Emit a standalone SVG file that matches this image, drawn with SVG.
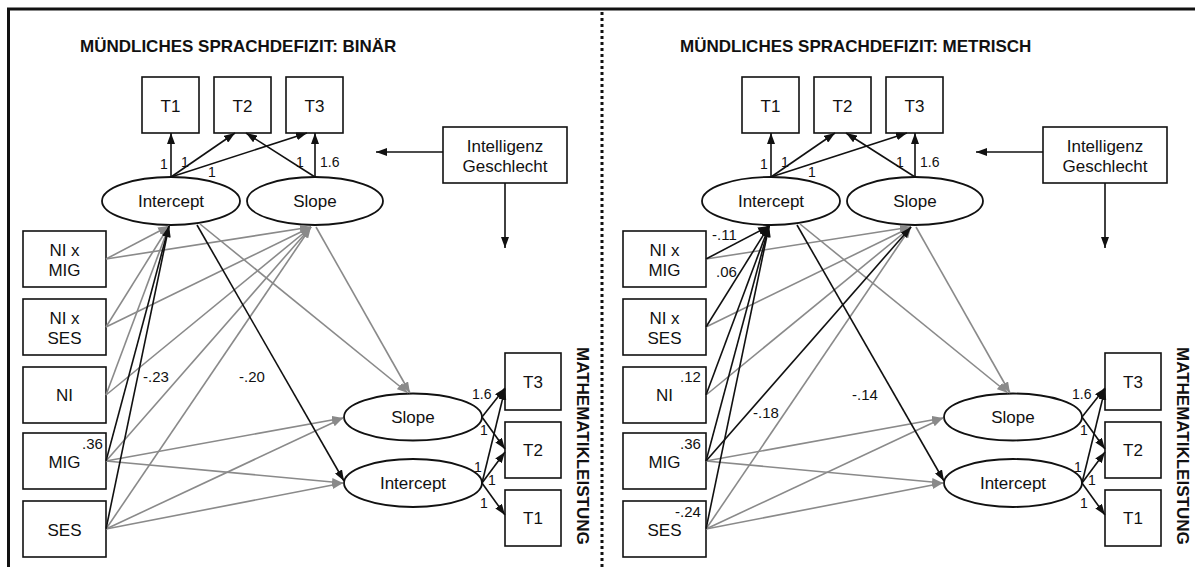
<svg xmlns="http://www.w3.org/2000/svg" width="1195" height="567" viewBox="0 0 1195 567">
<style>
text{font-family:"Liberation Sans",Arial,sans-serif;fill:#111}
.t{font-size:17px;text-anchor:middle}
.ti{font-size:17px;font-weight:bold}
.c{font-size:15px}
.s{font-size:14px}
.box{fill:#fff;stroke:#111;stroke-width:1.6}
.ell{fill:#fff;stroke:#111;stroke-width:1.8}
.k{stroke:#111;stroke-width:1.6;fill:none;marker-end:url(#mb)}
.g{stroke:#8a8a8a;stroke-width:1.6;fill:none;marker-end:url(#mg)}
</style>
<defs>
<marker id="mb" markerUnits="userSpaceOnUse" markerWidth="11" markerHeight="8" refX="11" refY="4" orient="auto"><path d="M0,0 L11,4 L0,8 z" fill="#111"/></marker>
<marker id="mg" markerUnits="userSpaceOnUse" markerWidth="11" markerHeight="8" refX="11" refY="4" orient="auto"><path d="M0,0 L11,4 L0,8 z" fill="#8a8a8a"/></marker>
</defs>
<rect width="1195" height="567" fill="#fff"/>
<g id="frame">
<line x1="7" y1="9" x2="1195" y2="9" stroke="#111" stroke-width="3"/>
<line x1="8.5" y1="8" x2="8.5" y2="567" stroke="#111" stroke-width="3"/>
<line x1="602" y1="12" x2="602" y2="567" stroke="#111" stroke-width="3" stroke-dasharray="3 3"/>
</g>

<!-- LEFT PANEL -->
<g id="left">
<text id="title-left" class="ti" x="80" y="52">MÜNDLICHES SPRACHDEFIZIT: BINÄR</text>
<g id="L-T1"><rect class="box" x="142" y="77" width="57" height="56"/><text class="t" x="170.5" y="112">T1</text></g>
<g id="L-T2"><rect class="box" x="214" y="77" width="57" height="56"/><text class="t" x="242.5" y="112">T2</text></g>
<g id="L-T3"><rect class="box" x="286" y="77" width="57" height="56"/><text class="t" x="314.5" y="112">T3</text></g>
<g id="L-cov"><rect class="box" x="443" y="127" width="124" height="56"/><text class="t" x="505" y="152">Intelligenz</text><text class="t" x="505" y="172">Geschlecht</text></g>
<g id="L-int1"><ellipse class="ell" cx="171" cy="201" rx="69" ry="24"/><text class="t" x="171" y="207">Intercept</text></g>
<g id="L-slo1"><ellipse class="ell" cx="315" cy="201" rx="68" ry="24"/><text class="t" x="315" y="207">Slope</text></g>
<g id="L-nimig"><rect class="box" x="23" y="231" width="83" height="56"/><text class="t" x="64.5" y="256">NI x</text><text class="t" x="64.5" y="276">MIG</text></g>
<g id="L-nises"><rect class="box" x="23" y="299" width="83" height="56"/><text class="t" x="64.5" y="324">NI x</text><text class="t" x="64.5" y="344">SES</text></g>
<g id="L-ni"><rect class="box" x="23" y="367" width="83" height="56"/><text class="t" x="64.5" y="401">NI</text></g>
<g id="L-mig"><rect class="box" x="23" y="433" width="83" height="56"/><text class="t" x="64.5" y="468">MIG</text></g>
<g id="L-ses"><rect class="box" x="23" y="501" width="83" height="56"/><text class="t" x="64.5" y="536">SES</text></g>
<g id="L-slo2"><ellipse class="ell" cx="413" cy="417" rx="69" ry="23.5"/><text class="t" x="413" y="423">Slope</text></g>
<g id="L-int2"><ellipse class="ell" cx="413" cy="483" rx="69" ry="24"/><text class="t" x="413" y="489">Intercept</text></g>
<g id="L-M3"><rect class="box" x="505" y="353" width="56" height="57"/><text class="t" x="533" y="388">T3</text></g>
<g id="L-M2"><rect class="box" x="505" y="422" width="56" height="56"/><text class="t" x="533" y="456">T2</text></g>
<g id="L-M1"><rect class="box" x="505" y="490" width="56" height="56"/><text class="t" x="533" y="524">T1</text></g>
<text class="ti" transform="translate(577,347) rotate(90)">MATHEMATIKLEISTUNG</text>
<g id="L-connectors">
<line class="g" x1="106" y1="259" x2="169" y2="226"/>
<line class="g" x1="106" y1="259" x2="311" y2="227"/>
<line class="g" x1="106" y1="327" x2="169" y2="226"/>
<line class="g" x1="106" y1="327" x2="311" y2="227"/>
<line class="g" x1="106" y1="395" x2="169" y2="226"/>
<line class="g" x1="106" y1="395" x2="311" y2="227"/>
<line class="g" x1="106" y1="461" x2="311" y2="227"/>
<line class="g" x1="106" y1="529" x2="311" y2="227"/>
<line class="g" x1="106" y1="461" x2="343" y2="418"/>
<line class="g" x1="106" y1="461" x2="343" y2="483"/>
<line class="g" x1="106" y1="529" x2="343" y2="418"/>
<line class="g" x1="106" y1="529" x2="343" y2="483"/>
<line class="g" x1="200" y1="224" x2="408" y2="393"/>
<line class="g" x1="316" y1="227" x2="410" y2="393"/>
<line class="k" x1="106" y1="461" x2="169" y2="226"/>
<line class="k" x1="106" y1="529" x2="169" y2="226"/>
<line class="k" x1="197" y1="225" x2="344" y2="481"/>
<line class="k" x1="171" y1="177" x2="171" y2="133"/>
<line class="k" x1="171" y1="177" x2="235" y2="133"/>
<line class="k" x1="171" y1="177" x2="307" y2="133"/>
<line class="k" x1="315" y1="177" x2="246" y2="133"/>
<line class="k" x1="315" y1="177" x2="315" y2="133"/>
<line class="k" x1="482" y1="417" x2="505" y2="388"/>
<line class="k" x1="482" y1="417" x2="505" y2="449"/>
<line class="k" x1="482" y1="483" x2="505" y2="389"/>
<line class="k" x1="482" y1="483" x2="505" y2="452"/>
<line class="k" x1="482" y1="483" x2="505" y2="515"/>
<line class="k" x1="443" y1="152" x2="376" y2="152"/>
<line class="k" x1="505" y1="183" x2="505" y2="248"/>
</g>
<g id="L-labels">
<text class="s" x="160" y="169">1</text>
<text class="s" x="181" y="167">1</text>
<text class="s" x="208" y="177">1</text>
<text class="s" x="296" y="167">1</text>
<text class="s" x="320" y="167">1.6</text>
<text class="s" x="472" y="399">1.6</text>
<text class="s" x="480" y="435">1</text>
<text class="s" x="474" y="472">1</text>
<text class="s" x="488" y="485">1</text>
<text class="s" x="480" y="508">1</text>
<text class="c" x="82" y="449">.36</text>
<text class="c" x="143" y="382">-.23</text>
<text class="c" x="239" y="382">-.20</text>
</g>
</g>

<!-- RIGHT PANEL -->
<g id="right" transform="translate(600,0)">
<text id="title-right" class="ti" x="80" y="52">MÜNDLICHES SPRACHDEFIZIT: METRISCH</text>
<g id="R-T1"><rect class="box" x="142" y="77" width="57" height="56"/><text class="t" x="170.5" y="112">T1</text></g>
<g id="R-T2"><rect class="box" x="214" y="77" width="57" height="56"/><text class="t" x="242.5" y="112">T2</text></g>
<g id="R-T3"><rect class="box" x="286" y="77" width="57" height="56"/><text class="t" x="314.5" y="112">T3</text></g>
<g id="R-cov"><rect class="box" x="443" y="127" width="124" height="56"/><text class="t" x="505" y="152">Intelligenz</text><text class="t" x="505" y="172">Geschlecht</text></g>
<g id="R-int1"><ellipse class="ell" cx="171" cy="201" rx="69" ry="24"/><text class="t" x="171" y="207">Intercept</text></g>
<g id="R-slo1"><ellipse class="ell" cx="315" cy="201" rx="68" ry="24"/><text class="t" x="315" y="207">Slope</text></g>
<g id="R-nimig"><rect class="box" x="23" y="231" width="83" height="56"/><text class="t" x="64.5" y="256">NI x</text><text class="t" x="64.5" y="276">MIG</text></g>
<g id="R-nises"><rect class="box" x="23" y="299" width="83" height="56"/><text class="t" x="64.5" y="324">NI x</text><text class="t" x="64.5" y="344">SES</text></g>
<g id="R-ni"><rect class="box" x="23" y="367" width="83" height="56"/><text class="t" x="64.5" y="401">NI</text></g>
<g id="R-mig"><rect class="box" x="23" y="433" width="83" height="56"/><text class="t" x="64.5" y="468">MIG</text></g>
<g id="R-ses"><rect class="box" x="23" y="501" width="83" height="56"/><text class="t" x="64.5" y="536">SES</text></g>
<g id="R-slo2"><ellipse class="ell" cx="413" cy="417" rx="69" ry="23.5"/><text class="t" x="413" y="423">Slope</text></g>
<g id="R-int2"><ellipse class="ell" cx="413" cy="483" rx="69" ry="24"/><text class="t" x="413" y="489">Intercept</text></g>
<g id="R-M3"><rect class="box" x="505" y="353" width="56" height="57"/><text class="t" x="533" y="388">T3</text></g>
<g id="R-M2"><rect class="box" x="505" y="422" width="56" height="56"/><text class="t" x="533" y="456">T2</text></g>
<g id="R-M1"><rect class="box" x="505" y="490" width="56" height="56"/><text class="t" x="533" y="524">T1</text></g>
<text class="ti" transform="translate(577,347) rotate(90)">MATHEMATIKLEISTUNG</text>
<g id="R-connectors">
<line class="g" x1="106" y1="259" x2="311" y2="227"/>
<line class="g" x1="106" y1="327" x2="311" y2="227"/>
<line class="g" x1="106" y1="395" x2="311" y2="227"/>
<line class="g" x1="106" y1="529" x2="311" y2="227"/>
<line class="g" x1="106" y1="461" x2="343" y2="418"/>
<line class="g" x1="106" y1="461" x2="343" y2="483"/>
<line class="g" x1="106" y1="529" x2="343" y2="418"/>
<line class="g" x1="106" y1="529" x2="343" y2="483"/>
<line class="g" x1="200" y1="224" x2="408" y2="393"/>
<line class="g" x1="316" y1="227" x2="410" y2="393"/>
<line class="k" x1="106" y1="259" x2="169" y2="226"/>
<line class="k" x1="106" y1="327" x2="169" y2="226"/>
<line class="k" x1="106" y1="395" x2="169" y2="226"/>
<line class="k" x1="106" y1="461" x2="169" y2="226"/>
<line class="k" x1="106" y1="529" x2="169" y2="226"/>
<line class="k" x1="106" y1="461" x2="311" y2="227"/>
<line class="k" x1="197" y1="225" x2="344" y2="481"/>
<line class="k" x1="171" y1="177" x2="171" y2="133"/>
<line class="k" x1="171" y1="177" x2="235" y2="133"/>
<line class="k" x1="171" y1="177" x2="307" y2="133"/>
<line class="k" x1="315" y1="177" x2="246" y2="133"/>
<line class="k" x1="315" y1="177" x2="315" y2="133"/>
<line class="k" x1="482" y1="417" x2="505" y2="388"/>
<line class="k" x1="482" y1="417" x2="505" y2="449"/>
<line class="k" x1="482" y1="483" x2="505" y2="389"/>
<line class="k" x1="482" y1="483" x2="505" y2="452"/>
<line class="k" x1="482" y1="483" x2="505" y2="515"/>
<line class="k" x1="443" y1="152" x2="376" y2="152"/>
<line class="k" x1="505" y1="183" x2="505" y2="248"/>
</g>
<g id="R-labels">
<text class="s" x="160" y="169">1</text>
<text class="s" x="181" y="167">1</text>
<text class="s" x="208" y="177">1</text>
<text class="s" x="296" y="167">1</text>
<text class="s" x="320" y="167">1.6</text>
<text class="s" x="472" y="399">1.6</text>
<text class="s" x="480" y="435">1</text>
<text class="s" x="474" y="472">1</text>
<text class="s" x="488" y="485">1</text>
<text class="s" x="480" y="508">1</text>
<text class="c" x="112" y="240">-.11</text>
<text class="c" x="116" y="277">.06</text>
<text class="c" x="80" y="382">.12</text>
<text class="c" x="80" y="449">.36</text>
<text class="c" x="75" y="517">-.24</text>
<text class="c" x="153" y="418">-.18</text>
<text class="c" x="252" y="400">-.14</text>
</g>
</g>
</svg>
